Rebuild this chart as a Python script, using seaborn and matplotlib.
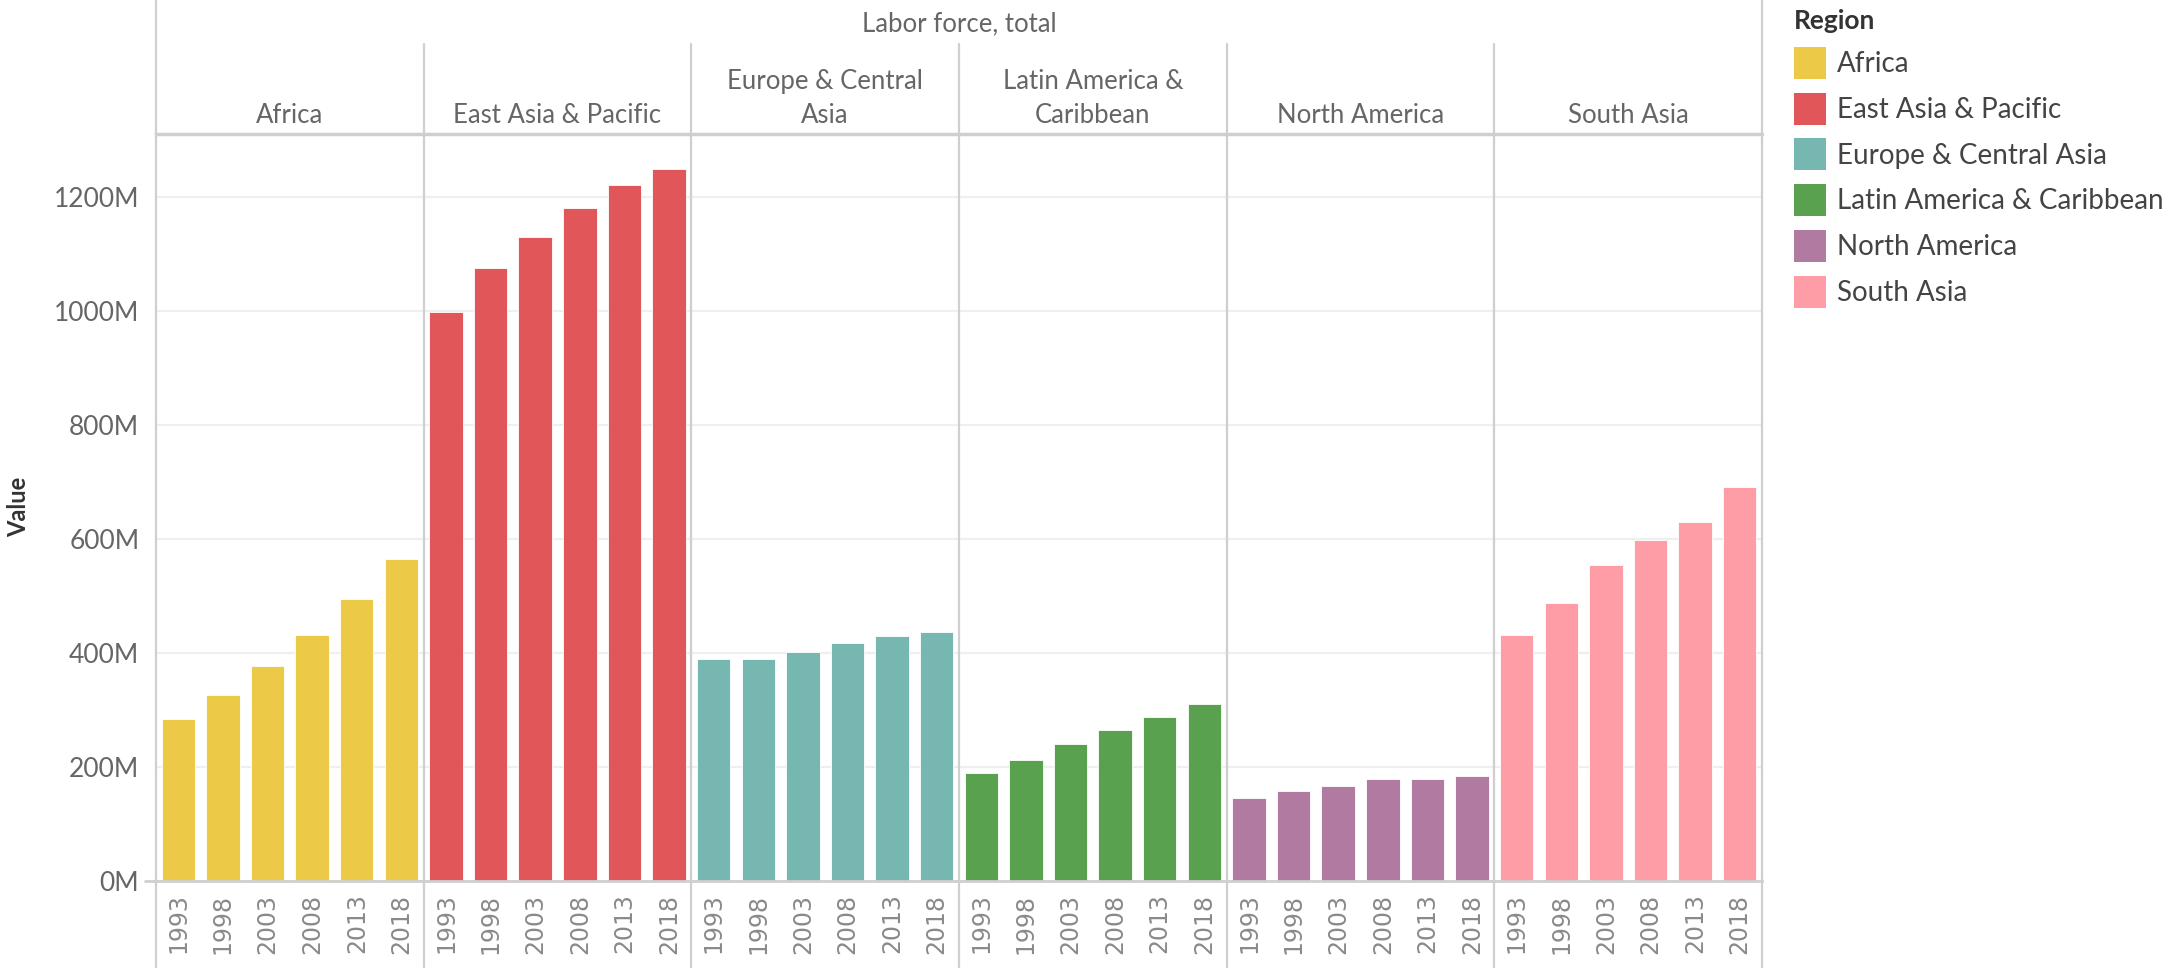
import pandas as pd
import matplotlib.pyplot as plt
import seaborn as sns
from matplotlib.lines import Line2D
from matplotlib.patches import Patch
from matplotlib.ticker import FuncFormatter, FixedLocator

sns.set_style("white")
plt.rcParams['font.family'] = ['Lato', 'DejaVu Sans']

# ===== data (millions) =====
regions = ['Africa', 'East Asia & Pacific', 'Europe & Central Asia',
           'Latin America & Caribbean', 'North America', 'South Asia']
header_labels = ['Africa', 'East Asia & Pacific', 'Europe & Central\nAsia',
                 'Latin America &\nCaribbean', 'North America', 'South Asia']
years = ['1993', '1998', '2003', '2008', '2013', '2018']
africa = [284, 326, 377, 432, 495, 565]
east_asia = [997, 1075, 1130, 1181, 1220, 1248]
europe = [389, 389, 401, 417, 429, 437]
latin = [189, 213, 241, 264, 287, 310]
north_america = [146, 158, 166, 178, 178, 185]
south_asia = [432, 487, 554, 598, 629, 691]
colors = ['#EDC948', '#E15759', '#76B7B2', '#59A14F', '#B07AA1', '#FF9DA7']

values = [africa, east_asia, europe, latin, north_america, south_asia]
rows = []
for reg, vals in zip(regions, values):
    for yr, v in zip(years, vals):
        rows.append({'Region': reg, 'Year': yr, 'Value': v * 1e6})
df = pd.DataFrame(rows)

W, H = 2170, 968
fig = plt.figure(figsize=(W / 100, H / 100), dpi=100)
axs = fig.subplots(1, 6, sharey=True)
L, R, B, T = 156, 1762, 881, 134
fig.subplots_adjust(left=L / W, right=R / W, bottom=1 - B / H, top=1 - T / H, wspace=0)

line_c = '#cfcfcf'
txt_c = '#666666'

for i, (ax, reg, col, lab) in enumerate(zip(axs, regions, colors, header_labels)):
    sub = df[df['Region'] == reg]
    sns.barplot(data=sub, x='Year', y='Value', order=years, color=col,
                saturation=1, width=0.75, ax=ax, edgecolor='white', linewidth=0.6)
    ax.set_ylim(0, 1310e6)
    ax.set_xlim(-0.5, 5.5)
    ax.set_xlabel('')
    ax.set_ylabel('')
    ax.yaxis.set_major_locator(FixedLocator([0, 200e6, 400e6, 600e6, 800e6, 1000e6, 1200e6]))
    ax.yaxis.set_major_formatter(FuncFormatter(lambda v, p: f"{v / 1e6:.0f}M"))
    ax.grid(axis='y', color='#efefef', lw=1.6)
    ax.set_axisbelow(True)
    for s in ['top', 'right']:
        ax.spines[s].set_visible(False)
    ax.spines['left'].set_color(line_c)
    ax.spines['left'].set_linewidth(1.6)
    ax.spines['bottom'].set_color(line_c)
    ax.spines['bottom'].set_linewidth(2)
    ax.tick_params(axis='x', length=0, pad=9, labelsize=17, labelcolor='#8a8a8a',
                   labelrotation=90, labelfontfamily='DejaVu Sans')
    ax.xaxis.set_minor_locator(FixedLocator([0.5, 1.5, 2.5, 3.5, 4.5]))
    ax.tick_params(axis='x', which='minor', length=7, color='#ececec', width=1.2)
    ax.tick_params(axis='y', length=9, color='#efefef', width=1.6, pad=3,
                   labelsize=19, labelcolor=txt_c)
    if i == 5:
        ax.spines['right'].set_visible(True)
        ax.spines['right'].set_color(line_c)
        ax.spines['right'].set_linewidth(1.6)
    # region header
    xc = (ax.get_position().x0 + ax.get_position().x1) / 2
    fig.text(xc, 1 - 128 / H, lab, ha='center', va='bottom', fontsize=18.5,
             color=txt_c, linespacing=1.45, multialignment='center')

# top header and frame lines
fig.text((L + R) / 2 / W, 1 - 24 / H, 'Labor force, total', ha='center', va='center',
         fontsize=18.5, color=txt_c)
fig.add_artist(Line2D([L / W, R / W], [1 - T / H, 1 - T / H], color=line_c, lw=2.5))
fig.add_artist(Line2D([145 / W, L / W], [1 - B / H, 1 - B / H], color=line_c, lw=2))
for k, ax in enumerate(axs):
    x0 = ax.get_position().x0
    top = 1.0 if k == 0 else 1 - 44 / H
    fig.add_artist(Line2D([x0, x0], [1 - T / H, top], color=line_c, lw=1.6))
    fig.add_artist(Line2D([x0, x0], [0, 1 - B / H], color=line_c, lw=1.6))
fig.add_artist(Line2D([R / W, R / W], [1 - T / H, 1], color=line_c, lw=1.6))
fig.add_artist(Line2D([R / W, R / W], [0, 1 - B / H], color=line_c, lw=1.6))

fig.text(19 / W, 1 - 507 / H, 'Value', rotation=90, ha='center', va='center',
         fontsize=17, fontweight='bold', color='#333333')

handles = [Patch(facecolor=c, edgecolor='none', label=r) for r, c in zip(regions, colors)]
leg = fig.legend(handles=handles, loc='upper left', bbox_to_anchor=(1794 / W, 1 - 9 / H),
                 frameon=False, fontsize=20, title='Region', alignment='left',
                 handlelength=1.15, handleheight=1.39, handletextpad=0.4,
                 labelspacing=0.5, borderaxespad=0, borderpad=0)
leg.get_title().set_fontweight('bold')
leg.get_title().set_fontsize(19)
leg.get_title().set_color('#333333')
for t in leg.get_texts():
    t.set_color('#444444')

plt.savefig('out.png', dpi=100)
